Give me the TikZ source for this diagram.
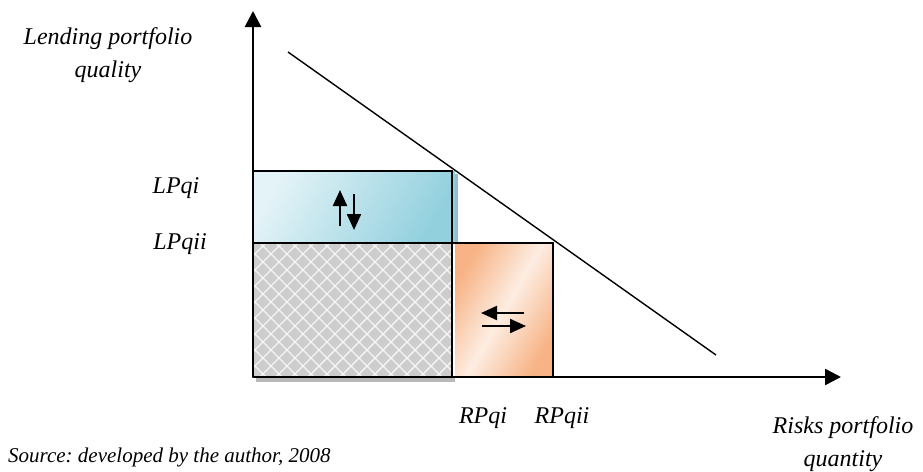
\documentclass[tikz,border=0pt]{standalone}
\usepackage{fontspec}
\setmainfont{Liberation Serif}
\usetikzlibrary{arrows.meta}
\frenchspacing
\definecolor{bluedark}{HTML}{92D0DE}
\definecolor{bluelight}{HTML}{E3F3F7}
\definecolor{orangedark}{HTML}{F7B385}
\definecolor{orangelight}{HTML}{FDEDE2}
\definecolor{hatchgray}{HTML}{CDCDCD}
\definecolor{framegray}{HTML}{5A5A5A}
\tikzset{
  lbl/.style={font=\fontsize{24}{33}\selectfont\itshape, inner sep=0pt},
  srclbl/.style={font=\fontsize{21}{25}\selectfont\itshape, inner sep=0pt},
  axisline/.style={line width=2.6pt, -{Triangle[length=16pt,width=16pt]}},
  boxframe/.style={line width=1.8pt, draw=black},
  arr/.style={line width=2.2pt, -{Triangle[length=16pt,width=14pt]}}
}
\begin{document}
\begin{tikzpicture}[x=1pt,y=-1pt]
\useasboundingbox (0,0) rectangle (923,471);
% coordinates
\coordinate (O) at (253,377);
\coordinate (ytop) at (253,11);
\coordinate (xend) at (841,377);
% gray hatched rectangle
\fill[gray!55] (256,377) rectangle (455,382);
\fill[hatchgray] (252,243) rectangle (452,377);
\begin{scope}
\clip (252,243) rectangle (452,377);
\foreach \i in {0,...,40} {
  \draw[white!92!gray, line width=1.4pt] (252+\i*16-200,377) -- ++(200,-200);
  \draw[white!92!gray, line width=1.4pt] (252+\i*16-200,243) -- ++(200,200);
}
\end{scope}
\draw[framegray, line width=2.6pt] (253,243) -- (253,377) -- (452,377);
% blue rectangle
\fill[bluedark!80!gray] (455,174) rectangle (458,246);
\shade[left color=bluelight, right color=bluedark, shading angle=60] (252,171) rectangle (455,243);
\draw[boxframe] (252,171) -- (452,171) -- (452,243);
\draw[boxframe] (252,243) -- (452,243);
% orange rectangle
\shade[left color=orangedark, right color=orangedark, middle color=orangelight, shading angle=60] (455,243) rectangle (553,377);
\draw[boxframe] (452,243) -- (553,243) -- (553,377);
\draw[line width=1.8pt] (452,243) -- (452,377);
% axes
\draw[axisline] (O) -- (ytop);
\draw[axisline] (O) -- (xend);
% diagonal
\coordinate (d1) at (288,52);
\coordinate (d2) at (716,355);
\draw[line width=1.4pt] (d1) -- (d2);
% arrows in blue box
\coordinate (u1) at (340,226); \coordinate (u2) at (340,190);
\coordinate (v1) at (354,194); \coordinate (v2) at (354,230);
\draw[arr] (u1) -- (u2);
\draw[arr] (v1) -- (v2);
% arrows in orange box
\coordinate (l1) at (524,313); \coordinate (l2) at (481,313);
\coordinate (r1) at (482,326); \coordinate (r2) at (526,326);
\draw[arr] (l1) -- (l2);
\draw[arr] (r1) -- (r2);
% labels
\node[lbl, align=center] (ylab) at (108,55) {Lending portfolio\\quality};
\node[lbl] (lpqi) at (176,188) {LPqi};
\node[lbl] (lpqii) at (180,244) {LPqii};
\node[lbl] (rpqi) at (483,418) {RPqi};
\node[lbl] (rpqii) at (562,418) {RPqii};
\node[lbl, align=center, anchor=north] (xlab) at (843,416) {Risks portfolio\\quantity};
\node[srclbl, anchor=west] (src) at (8,457) {Source: developed by the author, 2008};
\end{tikzpicture}
\end{document}
